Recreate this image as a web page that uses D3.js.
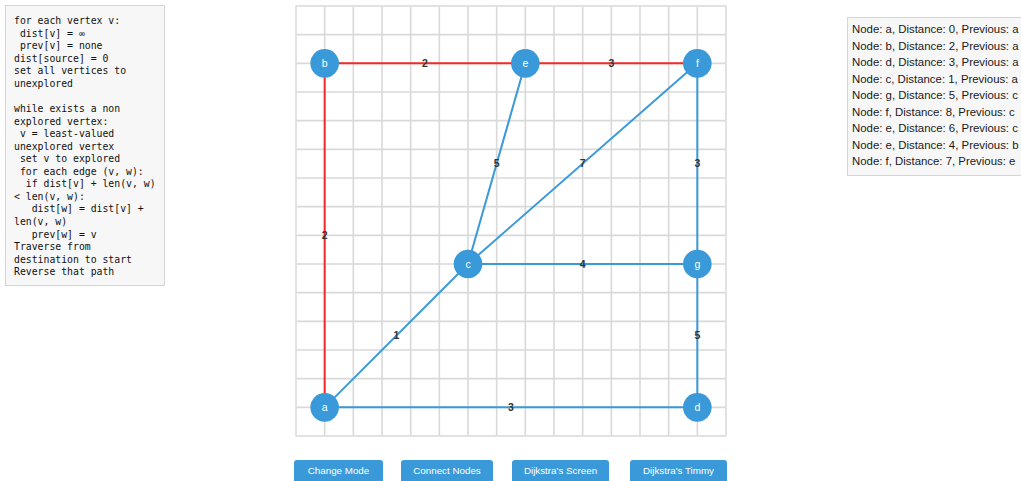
<!DOCTYPE html>
<html><head><meta charset="utf-8">
<script src="https://cdn.jsdelivr.net/npm/d3@7"></script>
<style>
html,body{margin:0;padding:0;background:#fff;overflow:hidden;}
#code{position:absolute;left:5px;top:5px;width:142px;height:263px;padding:9px 8px 7px 8px;background:#f7f7f7;border:1px solid #d5d5d5;font-family:"DejaVu Sans Mono",monospace;font-size:9.8px;line-height:12.57px;color:#111;white-space:pre;overflow:hidden;}
#log{position:absolute;left:847px;top:17px;width:190px;height:150px;padding:3px 0 4px 4px;background:#f7f7f7;border:1px solid #d5d5d5;font-family:"Liberation Sans",Arial,sans-serif;font-size:11.4px;line-height:16.5px;color:#1a1a1a;white-space:nowrap;}
.btn{position:absolute;top:460px;height:26px;background:#3a9ad9;color:#fff;border-radius:3px;font-family:"Liberation Sans",Arial,sans-serif;font-size:9.8px;text-align:center;line-height:22px;}
svg{position:absolute;left:0;top:0;}
</style></head>
<body>
<div id="code"></div>
<div id="log"></div>
<svg id="g" width="1021" height="481"></svg>
<script>
const codeLines = ["for each vertex v:"," dist[v] = \u221e"," prev[v] = none","dist[source] = 0","set all vertices to","unexplored","","while exists a non","explored vertex:"," v = least-valued","unexplored vertex"," set v to explored"," for each edge (v, w):","  if dist[v] + len(v, w)","< len(v, w):","   dist[w] = dist[v] +","len(v, w)","   prev[w] = v","Traverse from","destination to start","Reverse that path"];
const logNodes = ["a","b","d","c","g","f","e","e","f"];
const logDist = [0,2,3,1,5,8,6,4,7];
const logPrev = ["a","a","a","a","c","c","c","b","e"];
const nodeNames = ["a","b","c","d","e","f","g"];
const nodeCol = [1,1,6,14,8,14,14];
const nodeRow = [14,2,9,14,2,2,9];
const edgeFrom = ["a","b","e","a","a","c","c","c","f","g"];
const edgeTo   = ["b","e","f","c","d","e","f","g","g","d"];
const edgeW    = [2,2,3,1,3,5,7,4,3,5];
const edgeOnPath = [true,true,true,false,false,false,false,false,false,false];
const buttonLabels = ["Change Mode","Connect Nodes","Dijkstra's Screen","Dijkstra's Timmy"];
const buttonLeft = [294,401,512,630];
const buttonWidth = [89,92,97,97];

d3.select("#code").text(codeLines.join("\n"));
d3.select("#log").selectAll("div").data(logNodes).join("div")
  .text((d,i)=>`Node: ${d}, Distance: ${logDist[i]}, Previous: ${logPrev[i]}`);
d3.select("body").selectAll("div.btn").data(buttonLabels).join("div").attr("class","btn")
  .style("left",(d,i)=>buttonLeft[i]+"px").style("width",(d,i)=>buttonWidth[i]+"px").text(d=>d);

const svg = d3.select("#g");
const x = d3.scaleLinear().domain([0,15]).range([296,726]);
const y = d3.scaleLinear().domain([0,15]).range([6,436]);
const ticks = d3.range(0,16);
const grid = svg.append("g");
grid.selectAll("line.v").data(ticks).join("line")
  .attr("x1",d=>x(d)).attr("x2",d=>x(d)).attr("y1",y(0)).attr("y2",y(15))
  .attr("stroke","#d9d9d9").attr("stroke-width",1.6);
grid.selectAll("line.h").data(ticks).join("line")
  .attr("y1",d=>y(d)).attr("y2",d=>y(d)).attr("x1",x(0)).attr("x2",x(15))
  .attr("stroke","#d9d9d9").attr("stroke-width",1.6);
grid.append("rect").attr("x",x(0)).attr("y",y(0)).attr("width",x(15)-x(0)).attr("height",y(15)-y(0))
  .attr("fill","none").attr("stroke","#e2e2e2").attr("stroke-width",1.5);

const pos = {};
nodeNames.forEach((n,i)=>pos[n]=[x(nodeCol[i]),y(nodeRow[i])]);
const edges = edgeFrom.map((f,i)=>({f,t:edgeTo[i],w:edgeW[i],red:edgeOnPath[i]}));
svg.append("g").selectAll("line").data(edges).join("line")
  .attr("x1",d=>pos[d.f][0]).attr("y1",d=>pos[d.f][1]).attr("x2",d=>pos[d.t][0]).attr("y2",d=>pos[d.t][1])
  .attr("stroke",d=>d.red?"#f42a2a":"#3a9ad9").attr("stroke-width",2);
svg.append("g").selectAll("text").data(edges).join("text")
  .attr("x",d=>(pos[d.f][0]+pos[d.t][0])/2).attr("y",d=>(pos[d.f][1]+pos[d.t][1])/2)
  .attr("text-anchor","middle").attr("dy","0.35em")
  .attr("font-family","Liberation Sans, Arial, sans-serif").attr("font-size",10.5).attr("font-weight","bold").attr("fill","#333")
  .text(d=>d.w);
const ng = svg.append("g").selectAll("g").data(nodeNames).join("g")
  .attr("transform",d=>`translate(${pos[d][0]},${pos[d][1]})`);
ng.append("circle").attr("r",14.3).attr("fill","#3a9ad9");
ng.append("text").attr("text-anchor","middle").attr("dy","0.35em")
  .attr("font-family","Liberation Sans, Arial, sans-serif").attr("font-size",10.5).attr("fill","#fff").text(d=>d);
</script>
</body></html>
